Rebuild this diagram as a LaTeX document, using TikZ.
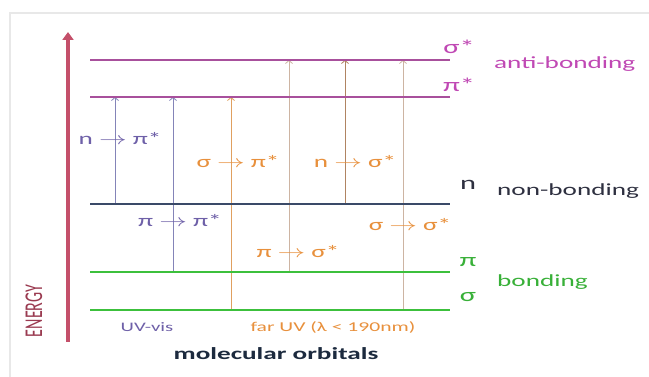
\documentclass[tikz,border=0pt]{standalone}
\usepackage{fontspec}
\setmainfont{Carlito}
\usetikzlibrary{arrows.meta}
\definecolor{framegray}{HTML}{E8E8E8}
\definecolor{anticol}{HTML}{A8509C}
\definecolor{antitext}{HTML}{C048B4}
\definecolor{nbline}{HTML}{3A4A68}
\definecolor{nbtext}{HTML}{2E3040}
\definecolor{bline}{HTML}{3CC03C}
\definecolor{btext}{HTML}{38B038}
\definecolor{energycol}{HTML}{C4506A}
\definecolor{energytext}{HTML}{9A3A50}
\definecolor{uvarrow}{HTML}{8484B8}
\definecolor{uvtext}{HTML}{6E60A8}
\definecolor{faroarrow}{HTML}{E0A060}
\definecolor{farbarrow}{HTML}{B08462}
\definecolor{farlarrow}{HTML}{CDB4A2}
\definecolor{fartext}{HTML}{E8903C}
\definecolor{motext}{HTML}{1C2A3E}
\newcommand{\widetxt}[1]{\scalebox{1.6}[1]{#1}}
\tikzset{
  lvl/.style={line width=2pt},
  trans/.style={line width=0.8pt,-{Straight Barb[length=3pt,width=7pt]}},
  lbl/.style={inner sep=0pt,font=\fontsize{17}{20}\selectfont},
  sym/.style={inner sep=0pt,font=\fontsize{19}{22}\selectfont},
}
\begin{document}
\begin{tikzpicture}[x=1pt,y=-1pt]
\useasboundingbox (0,0) rectangle (649,377);
\fill[white] (0,0) rectangle (649,377);
% faint frame
\draw[framegray,line width=1.2pt] (10,377) -- (10,13) -- (649,13);

% level ends
\coordinate (ss1) at (90,60);  \coordinate (ss2) at (450,60);
\coordinate (ps1) at (90,97);  \coordinate (ps2) at (450,97);
\coordinate (n1)  at (90,204); \coordinate (n2)  at (450,204);
\coordinate (p1)  at (90,272); \coordinate (p2)  at (450,272);
\coordinate (s1)  at (90,310); \coordinate (s2)  at (450,310);

% energy axis
\coordinate (eb) at (68,342);
\coordinate (et) at (68,32);
\draw[energycol,line width=3.5pt,-{Triangle[length=8pt,width=11pt]}] (eb) -- (et);
\node[lbl,energytext,rotate=90,font=\fontsize{16}{18}\selectfont] (energy) at (34,311) {\scalebox{1}[1.6]{ENERGY}};

% transitions (drawn under levels)
\coordinate (t1b) at (115,204); \coordinate (t1t) at (115,97);
\coordinate (t2b) at (173,272); \coordinate (t2t) at (173,97);
\coordinate (t3b) at (231,310); \coordinate (t3t) at (231,97);
\coordinate (t4b) at (289,272); \coordinate (t4t) at (289,60);
\coordinate (t5b) at (345,204); \coordinate (t5t) at (345,60);
\coordinate (t6b) at (403,310); \coordinate (t6t) at (403,60);
\draw[trans,uvarrow] (t1b) -- (t1t);
\draw[trans,uvarrow] (t2b) -- (t2t);
\draw[trans,faroarrow] (t3b) -- (t3t);
\draw[trans,farlarrow] (t4b) -- (t4t);
\draw[trans,farbarrow] (t5b) -- (t5t);
\draw[trans,farlarrow] (t6b) -- (t6t);

% levels
\draw[lvl,anticol] (ss1) -- (ss2);
\draw[lvl,anticol] (ps1) -- (ps2);
\draw[lvl,nbline] (n1) -- (n2);
\draw[lvl,bline] (p1) -- (p2);
\draw[lvl,bline] (s1) -- (s2);

% level labels
\node[sym,antitext] (lss) at (459,47) {\widetxt{σ*}};
\node[sym,antitext] (lps) at (459,85) {\widetxt{π*}};
\node[lbl,antitext,anchor=west] (anti) at (494,64) {\widetxt{anti-bonding}};
\node[sym,nbtext] (ln) at (468,185) {\widetxt{n}};
\node[lbl,nbtext,anchor=west] (nonb) at (497,191) {\widetxt{non-bonding}};
\node[sym,btext] (lp) at (468,262) {\widetxt{π}};
\node[lbl,btext,anchor=west] (bond) at (497,282) {\widetxt{bonding}};
\node[sym,btext] (ls) at (468,297) {\widetxt{σ}};

% transition labels
\node[lbl,uvtext] (l1) at (120,138) {\widetxt{n $\rightarrow$ π*}};
\node[lbl,uvtext] (l2) at (180,220) {\widetxt{π $\rightarrow$ π*}};
\node[lbl,fartext] (l3) at (238,162) {\widetxt{σ $\rightarrow$ π*}};
\node[lbl,fartext] (l4) at (298,252) {\widetxt{π $\rightarrow$ σ*}};
\node[lbl,fartext] (l5) at (355,162) {\widetxt{n $\rightarrow$ σ*}};
\node[lbl,fartext] (l6) at (410,225) {\widetxt{σ $\rightarrow$ σ*}};

% bottom labels
\node[lbl,uvtext,font=\fontsize{13}{15}\selectfont] (uv) at (147,327) {\widetxt{UV-vis}};
\node[lbl,fartext,font=\fontsize{13.5}{15}\selectfont] (far) at (333,327) {\widetxt{far UV (λ < 190nm)}};
\node[lbl,motext,font=\bfseries\fontsize{17}{20}\selectfont] (mo) at (276,354) {\widetxt{molecular orbitals}};
\end{tikzpicture}
\end{document}
